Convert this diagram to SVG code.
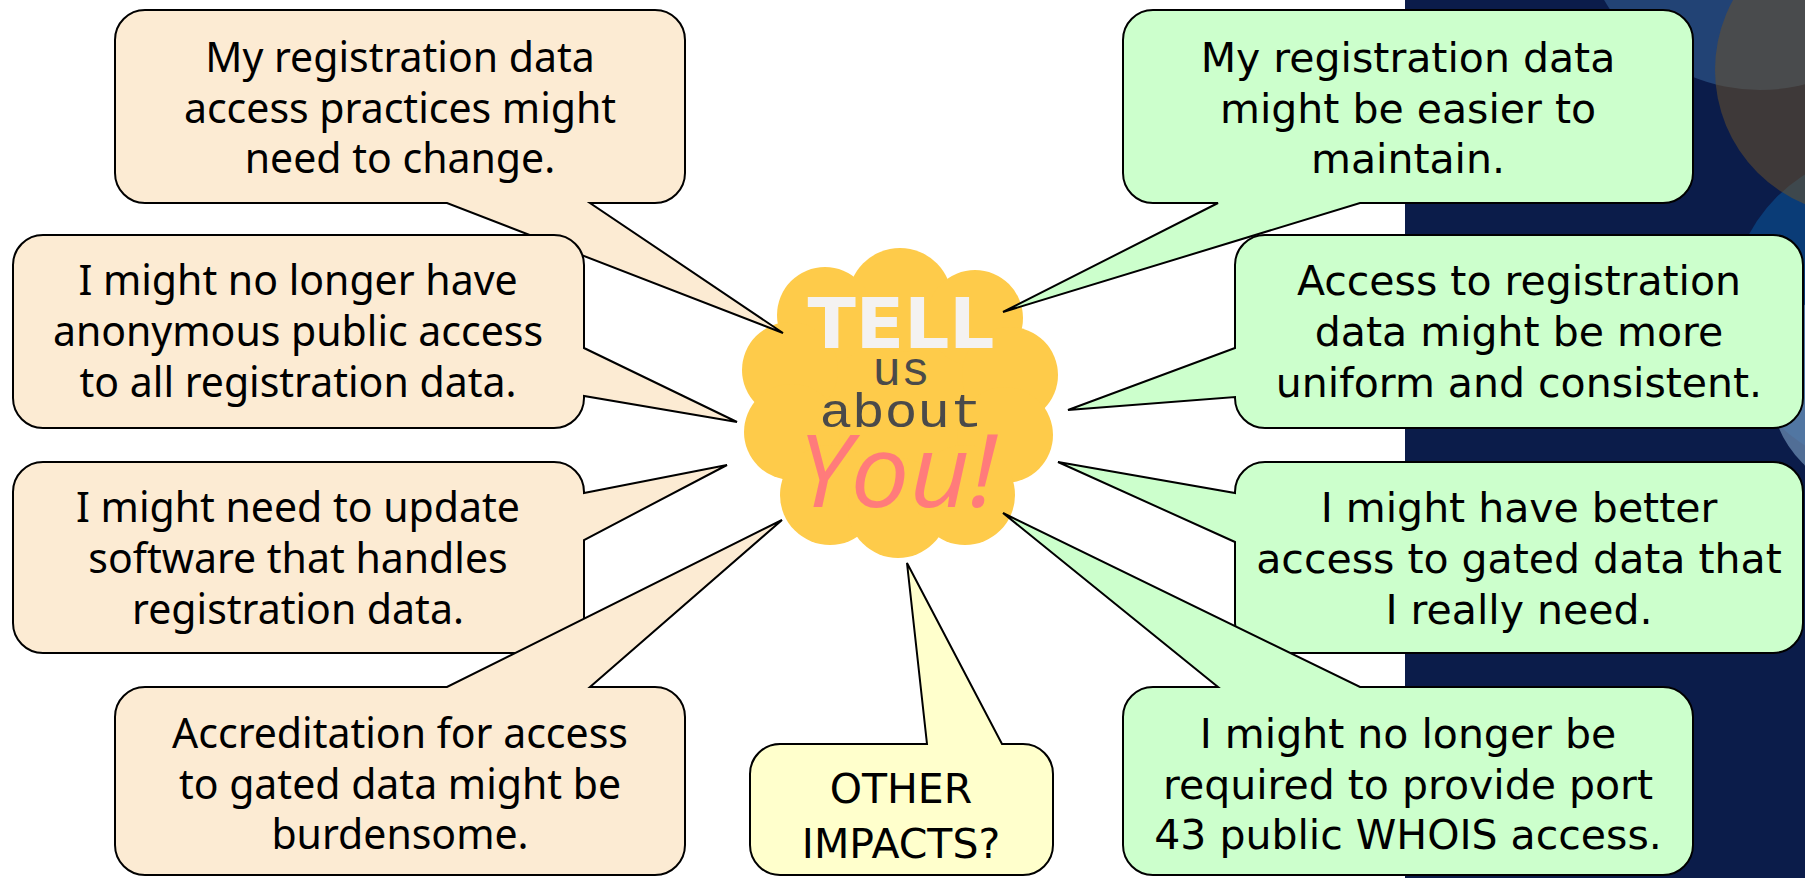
<svg xmlns="http://www.w3.org/2000/svg" width="1805" height="878" viewBox="0 0 1805 878">
  <style>
    .bub { stroke: #000; stroke-width: 2; stroke-linejoin: miter; }
    .beige { fill: #FCEBD3; }
    .green { fill: #CCFFCC; }
    .yellow { fill: #FFFFCC; }
    .tl { font-family: "Noto Sans", sans-serif; font-size: 41px; fill: #000; text-anchor: middle; }
    .tr { font-family: "DejaVu Sans", sans-serif; font-size: 41px; fill: #000; text-anchor: middle; }
    .cloud { fill: #FECB4A; }
  </style>

  <!-- background -->
  <rect x="0" y="0" width="1805" height="878" fill="#FFFFFF"/>
  <g id="background">
    <rect x="1405" y="0" width="400" height="878" fill="#0B1C4A"/>
    <circle cx="1760" cy="-90" r="180" fill="#3A6AA0" fill-opacity="0.5"/>
    <circle cx="1890" cy="310" r="160" fill="#0A4A8A" fill-opacity="0.7"/>
    <circle cx="1880" cy="385" r="110" fill="#6A8AB0" fill-opacity="0.75"/>
    <circle cx="1860" cy="70" r="145" fill="#6A522C" fill-opacity="0.55"/>
  </g>

  <!-- central cloud -->
  <g id="cloud">
    <g class="cloud">
      <circle cx="898" cy="400" r="120"/>
      <circle cx="900" cy="300" r="52"/>
      <circle cx="825" cy="315" r="48"/>
      <circle cx="975" cy="318" r="48"/>
      <circle cx="790" cy="370" r="48"/>
      <circle cx="792" cy="432" r="48"/>
      <circle cx="1010" cy="375" r="48"/>
      <circle cx="1005" cy="435" r="48"/>
      <circle cx="830" cy="495" r="50"/>
      <circle cx="898" cy="508" r="50"/>
      <circle cx="965" cy="495" r="50"/>
    </g>
    <text x="901" y="348" font-family="DejaVu Sans, sans-serif" font-weight="bold" font-size="70" fill="#F4F2F1" text-anchor="middle" textLength="187" lengthAdjust="spacingAndGlyphs">TELL</text>
    <text x="901" y="385" font-family="Liberation Mono, monospace" font-size="48" fill="#4A4A4A" text-anchor="middle">us</text>
    <text x="901" y="427" font-family="Liberation Mono, monospace" font-size="48" fill="#4A4A4A" text-anchor="middle" textLength="163" lengthAdjust="spacingAndGlyphs">about</text>
    <text x="897" y="507" font-family="Open Sans, sans-serif" font-style="italic" font-size="100" fill="#FF7B7B" text-anchor="middle" textLength="199" lengthAdjust="spacingAndGlyphs">You!</text>
  </g>

  <!-- callouts (bubble + tail as one shape) -->
  <g id="connectors">
  </g>

  <g id="callout-a">
    <path class="bub beige" d="M145,10 H655 A30,30 0 0 1 685,40 V173 A30,30 0 0 1 655,203 H590 L783,333 L447,203 H145 A30,30 0 0 1 115,173 V40 A30,30 0 0 1 145,10 Z"/>
    <text class="tl" x="400" y="72">My registration data</text>
    <text class="tl" x="400" y="123">access practices might</text>
    <text class="tl" x="400" y="173">need to change.</text>
  </g>

  <g id="callout-b">
    <path class="bub beige" d="M43,235 H554 A30,30 0 0 1 584,265 V348 L737,422 L584,396 V398 A30,30 0 0 1 554,428 H43 A30,30 0 0 1 13,398 V265 A30,30 0 0 1 43,235 Z"/>
    <text class="tl" x="298" y="295">I might no longer have</text>
    <text class="tl" x="298" y="346">anonymous public access</text>
    <text class="tl" x="298" y="397">to all registration data.</text>
  </g>

  <g id="callout-c">
    <path class="bub beige" d="M43,462 H554 A30,30 0 0 1 584,492 V493 L727,465 L584,540 V623 A30,30 0 0 1 554,653 H43 A30,30 0 0 1 13,623 V492 A30,30 0 0 1 43,462 Z"/>
    <text class="tl" x="298" y="522">I might need to update</text>
    <text class="tl" x="298" y="573">software that handles</text>
    <text class="tl" x="298" y="624">registration data.</text>
  </g>

  <g id="callout-d">
    <path class="bub beige" d="M145,687 H447 L782,520 L590,687 H655 A30,30 0 0 1 685,717 V845 A30,30 0 0 1 655,875 H145 A30,30 0 0 1 115,845 V717 A30,30 0 0 1 145,687 Z"/>
    <text class="tl" x="400" y="748">Accreditation for access</text>
    <text class="tl" x="400" y="799">to gated data might be</text>
    <text class="tl" x="400" y="849">burdensome.</text>
  </g>

  <g id="callout-e">
    <path class="bub green" d="M1153,10 H1663 A30,30 0 0 1 1693,40 V173 A30,30 0 0 1 1663,203 H1360 L1003,312 L1218,203 H1153 A30,30 0 0 1 1123,173 V40 A30,30 0 0 1 1153,10 Z"/>
    <text class="tr" x="1408" y="72">My registration data</text>
    <text class="tr" x="1408" y="123">might be easier to</text>
    <text class="tr" x="1408" y="173">maintain.</text>
  </g>

  <g id="callout-f">
    <path class="bub green" d="M1265,235 H1773 A30,30 0 0 1 1803,265 V398 A30,30 0 0 1 1773,428 H1265 A30,30 0 0 1 1235,398 V397 L1068,410 L1235,348 V265 A30,30 0 0 1 1265,235 Z"/>
    <text class="tr" x="1519" y="295">Access to registration</text>
    <text class="tr" x="1519" y="346">data might be more</text>
    <text class="tr" x="1519" y="397">uniform and consistent.</text>
  </g>

  <g id="callout-g">
    <path class="bub green" d="M1265,462 H1773 A30,30 0 0 1 1803,492 V623 A30,30 0 0 1 1773,653 H1265 A30,30 0 0 1 1235,623 V542 L1058,462 L1235,493 V492 A30,30 0 0 1 1265,462 Z"/>
    <text class="tr" x="1519" y="522">I might have better</text>
    <text class="tr" x="1519" y="573">access to gated data that</text>
    <text class="tr" x="1519" y="624">I really need.</text>
  </g>

  <g id="callout-h">
    <path class="bub green" d="M1153,687 H1218 L1003,513 L1360,687 H1663 A30,30 0 0 1 1693,717 V845 A30,30 0 0 1 1663,875 H1153 A30,30 0 0 1 1123,845 V717 A30,30 0 0 1 1153,687 Z"/>
    <text class="tr" x="1408" y="748">I might no longer be</text>
    <text class="tr" x="1408" y="799">required to provide port</text>
    <text class="tr" x="1408" y="849">43 public WHOIS access.</text>
  </g>

  <g id="callout-i">
    <path class="bub yellow" d="M780,744 H927 L907,563 L1002,744 H1023 A30,30 0 0 1 1053,774 V845 A30,30 0 0 1 1023,875 H780 A30,30 0 0 1 750,845 V774 A30,30 0 0 1 780,744 Z"/>
    <text class="tr" x="901" y="803">OTHER</text>
    <text class="tr" x="901" y="858">IMPACTS?</text>
  </g>
</svg>
